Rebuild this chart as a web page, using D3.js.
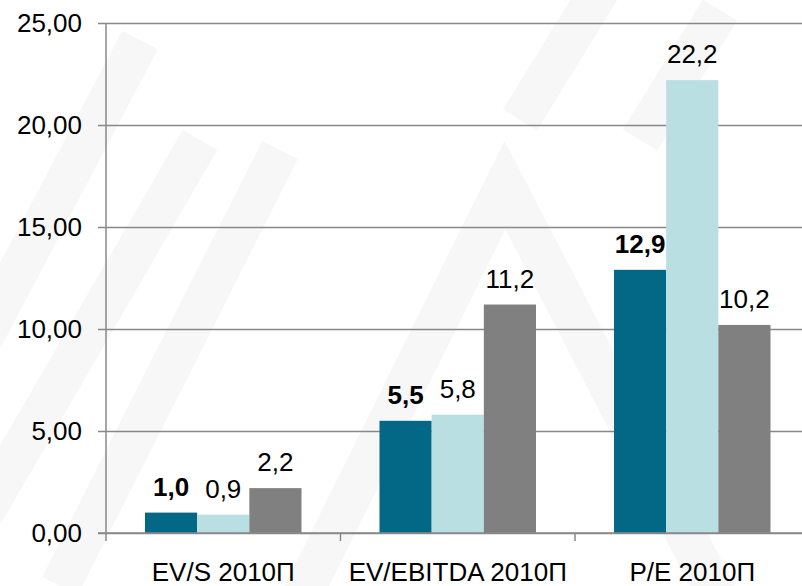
<!DOCTYPE html>
<html>
<head>
<meta charset="utf-8">
<script src="https://cdn.jsdelivr.net/npm/d3@7"></script>
<style>
  body { margin: 0; background: #fff; }
  svg text { font-family: "Liberation Sans", Arial, sans-serif; fill: #000; }
</style>
</head>
<body>
<div id="chart"></div>
<script>
// chart values
var categories = ['EV/S 2010П', 'EV/EBITDA 2010П', 'P/E 2010П'],
    seriesNames = ['company', 'peers_ru', 'peers_em'],
    companyVals = [1.0, 5.5, 12.9],
    peersRuVals = [0.9, 5.8, 22.2],
    peersEmVals = [2.2, 11.2, 10.2],
    yTicks = [0, 5, 10, 15, 20, 25];

var colors = ['#036886', '#b9dfe3', '#808080'];

var width = 802,
    height = 586,
    plotLeft = 106,
    plotTop = 23,
    plotBottom = 533,
    fontSize = '26px';

var svg = d3.select('#chart')
  .append('svg')
    .attr('width', width)
    .attr('height', height);

// faint watermark behind the plot
var wm = svg.append('g')
    .attr('fill', 'none')
    .attr('stroke', '#f7f7f7')
    .attr('stroke-width', 40);
wm.append('path')
  .attr('d', 'M290,620 L505,185 L730,620');
[[-60, 420, 140, 40], [-20, 520, 200, 140], [60, 586, 280, 150], [520, 120, 600, -10], [640, 140, 720, 10]]
  .forEach(function(s) {
    wm.append('line')
      .attr('x1', s[0]).attr('y1', s[1])
      .attr('x2', s[2]).attr('y2', s[3]);
  });

var y = d3.scaleLinear()
    .domain([0, 25])
    .range([plotBottom, plotTop]);

var x = d3.scaleBand()
    .domain(categories)
    .range([plotLeft, 809.5])
    .padding(0);

var xInner = d3.scaleBand()
    .domain(seriesNames)
    .range([39, x.bandwidth() - 39])
    .padding(0);

// gridlines and y labels
var yAxis = svg.append('g')
    .attr('transform', 'translate(' + plotLeft + ',0)')
    .call(d3.axisLeft(y)
      .tickValues(yTicks)
      .tickSize(-(width - plotLeft + 10))
      .tickPadding(24)
      .tickFormat(function(d) { return d3.format('.2f')(d).replace('.', ','); }));
yAxis.select('.domain').remove();
yAxis.selectAll('.tick line')
    .attr('x1', -8)
    .attr('stroke', '#888')
    .attr('stroke-width', 1.5);
yAxis.selectAll('.tick text')
    .attr('x', -24)
    .style('font-size', fontSize)
    .attr('fill', '#000');

var data = categories.map(function(c, i) {
  return {cat: c, vals: [companyVals[i], peersRuVals[i], peersEmVals[i]]};
});

var groups = svg.selectAll('.grp')
  .data(data)
  .enter()
    .append('g')
      .attr('class', 'grp')
      .attr('transform', function(d) { return 'translate(' + x(d.cat) + ',0)'; });

groups.selectAll('rect')
  .data(function(d) { return d.vals; })
  .enter()
    .append('rect')
      .attr('x', function(d, i) { return xInner(seriesNames[i]); })
      .attr('width', xInner.bandwidth())
      .attr('y', function(d) { return y(d); })
      .attr('height', function(d) { return y(0) - y(d); })
      .attr('fill', function(d, i) { return colors[i]; });

groups.selectAll('.lbl')
  .data(function(d) { return d.vals; })
  .enter()
    .append('text')
      .attr('class', 'lbl')
      .attr('x', function(d, i) { return xInner(seriesNames[i]) + xInner.bandwidth() / 2; })
      .attr('y', function(d) { return y(d) - 17; })
      .attr('text-anchor', 'middle')
      .style('font-size', fontSize)
      .style('font-weight', function(d, i) { return i === 0 ? 'bold' : 'normal'; })
      .text(function(d) { return d3.format('.1f')(d).replace('.', ','); });

// x axis
var xAxis = svg.append('g')
    .attr('transform', 'translate(0,' + plotBottom + ')')
    .call(d3.axisBottom(x).tickSize(0).tickPadding(30));
xAxis.select('.domain').remove();
xAxis.selectAll('.tick text')
    .style('font-size', fontSize)
    .attr('fill', '#000');

svg.append('line')
  .attr('x1', plotLeft - 8).attr('x2', width)
  .attr('y1', plotBottom).attr('y2', plotBottom)
  .attr('stroke', '#888').attr('stroke-width', 1.5);

svg.append('line')
  .attr('x1', plotLeft).attr('x2', plotLeft)
  .attr('y1', plotTop).attr('y2', plotBottom + 8)
  .attr('stroke', '#888').attr('stroke-width', 1.5);

svg.selectAll('.ctick')
  .data(categories.slice(1))
  .enter()
    .append('line')
      .attr('class', 'ctick')
      .attr('x1', function(d) { return x(d); })
      .attr('x2', function(d) { return x(d); })
      .attr('y1', plotBottom)
      .attr('y2', plotBottom + 8)
      .attr('stroke', '#888')
      .attr('stroke-width', 1.5);
</script>
</body>
</html>
